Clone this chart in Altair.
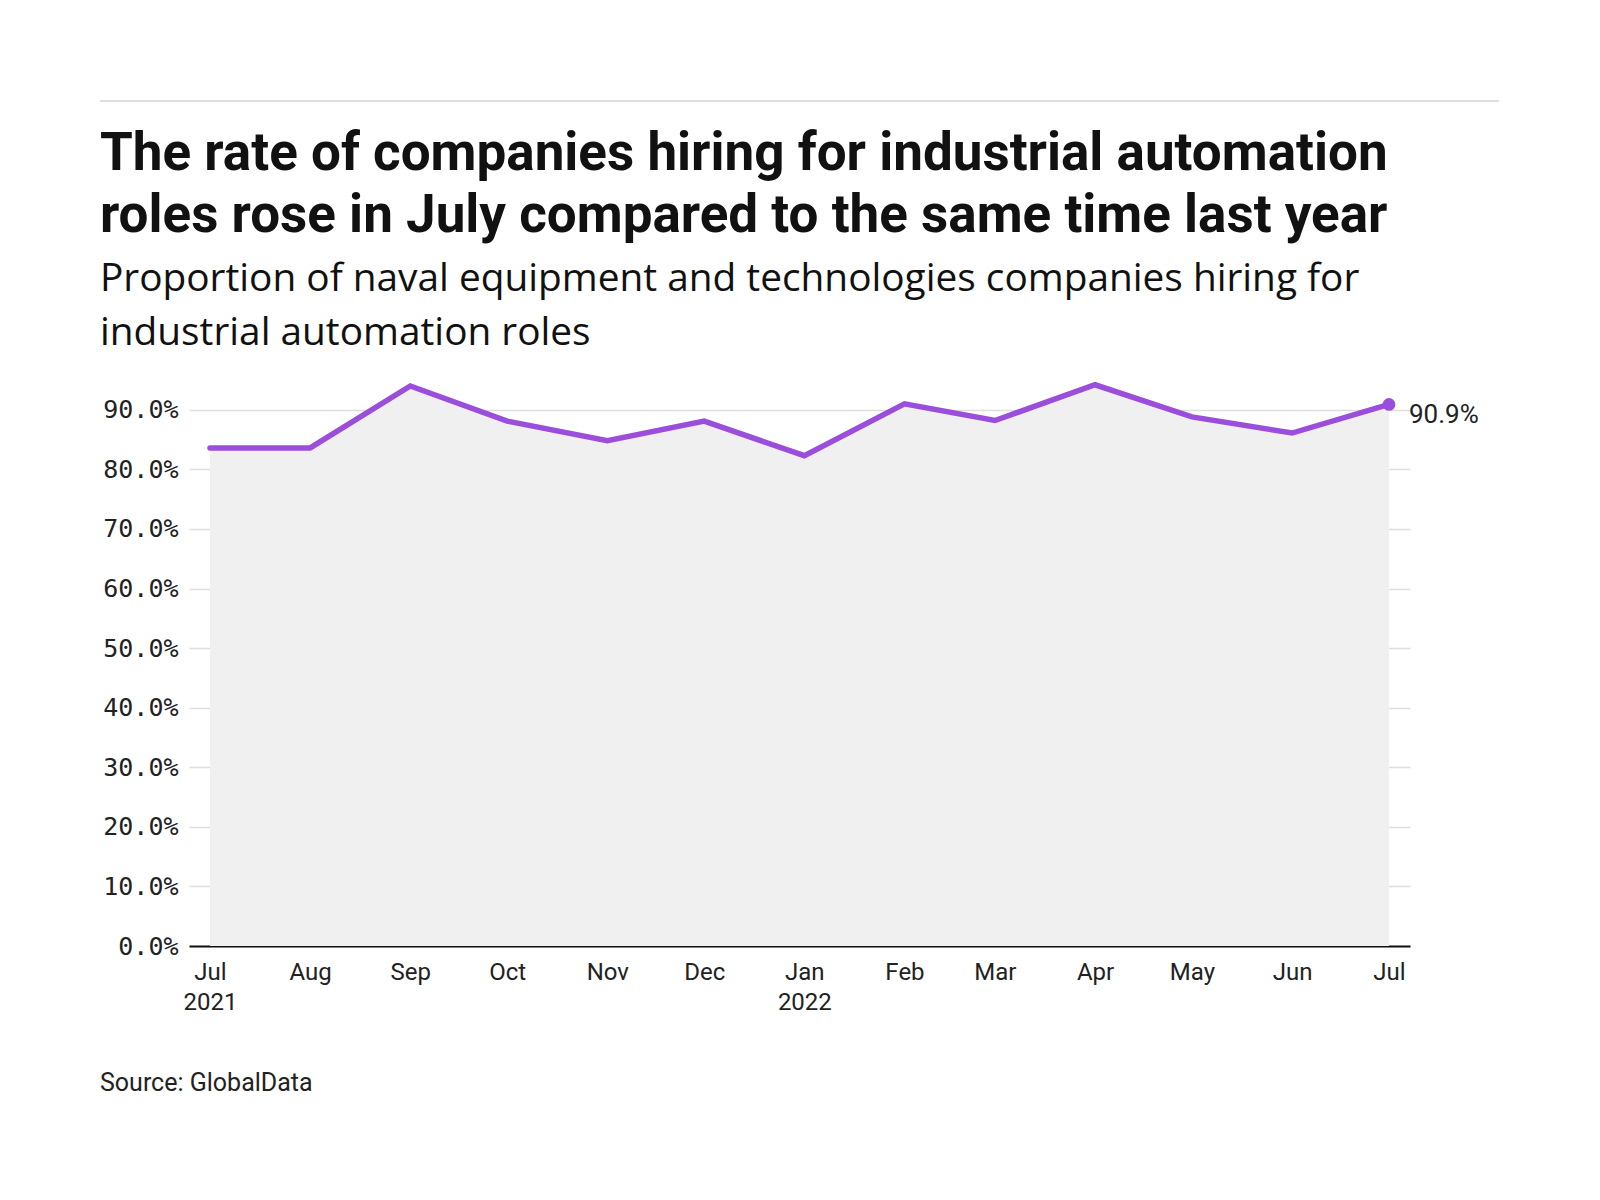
import altair as alt
import pandas as pd

months = ["2021-07-01", "2021-08-01", "2021-09-01", "2021-10-01", "2021-11-01",
          "2021-12-01", "2022-01-01", "2022-02-01", "2022-03-01", "2022-04-01",
          "2022-05-01", "2022-06-01", "2022-07-01"]
values = [83.6, 83.6, 94.0, 88.1, 84.8, 88.1, 82.3, 91.0, 88.2, 94.2, 88.8, 86.1, 90.9]

title_lines = ["The rate of companies hiring for industrial automation",
               "roles rose in July compared to the same time last year"]
subtitle_lines = ["Proportion of naval equipment and technologies companies hiring for",
                  "industrial automation roles"]
source_text = "Source: GlobalData"

df = pd.DataFrame({"date": months, "value": [v / 100 for v in values]})
last = df.tail(1).copy()
last["label"] = [f"{values[-1]:.1f}%"]

W, H = 1221, 566
PURPLE = "#9b4ddb"
FONT = "Roboto"

xenc = alt.X("date:T", scale=alt.Scale(type="utc", padding=21, nice=False),
             axis=alt.Axis(title=None, grid=False, ticks=False, domain=True,
                           domainColor="#111111", domainWidth=2,
                           tickCount={"interval": "month", "step": 1},
                           labelExpr="(utcmonth(datum.value)==0 || (utcyear(datum.value)==2021 && utcmonth(datum.value)==6)) ? [utcFormat(datum.value,'%b'), utcFormat(datum.value,'%Y')] : utcFormat(datum.value,'%b')",
                           labelFont=FONT, labelFontSize=24, labelColor="#222222",
                           labelLineHeight=30, labelPadding=14, labelBaseline="top",
                           labelFlush=False, labelOverlap=False))
yenc = alt.Y("value:Q", scale=alt.Scale(domain=[0, 0.95], nice=False),
             axis=alt.Axis(title=None, values=[i / 10 for i in range(10)], format=".1%",
                           grid=True, gridColor="#dedede", gridWidth=1.5,
                           domain=False, ticks=False, labelPadding=11,
                           labelFont="DejaVu Sans Mono", labelFontSize=25,
                           labelColor="#222222"))

base = alt.Chart(df)
area = base.mark_area(color="#f0f0f0").encode(x=xenc, y=yenc)
line = base.mark_line(color=PURPLE, strokeWidth=5.5, strokeCap="round").encode(x="date:T", y="value:Q")
point = alt.Chart(last).mark_circle(color=PURPLE, size=160, opacity=1).encode(x="date:T", y="value:Q")
label = alt.Chart(last).mark_text(align="left", baseline="middle", dx=20, dy=11,
                                  font=FONT, fontSize=26, color="#222222").encode(
    x="date:T", y="value:Q", text="label:N")

top_rule = alt.Chart(df.head(1)).mark_rule(color="#dddddd", strokeWidth=2).encode(
    x=alt.value(-89), x2=alt.value(1310), y=alt.value(-279))
source = alt.Chart(df.head(1)).mark_text(align="left", baseline="alphabetic",
                                         font=FONT, fontSize=25, color="#222222").encode(
    x=alt.value(-89), y=alt.value(711), text=alt.value(source_text))

chart = alt.layer(area, line, point, label, top_rule, source).properties(
    width=W, height=H,
    autosize=alt.AutoSizeParams(type="none"),
    padding={"left": 181, "top": 372, "right": 180, "bottom": 260},
    title=alt.TitleParams(text=title_lines, subtitle=subtitle_lines,
                          anchor="start", frame="group", dx=-89, offset=-253,
                          font=FONT, fontSize=53, fontWeight="bold", lineHeight=62,
                          color="#111111",
                          subtitleFont="Open Sans", subtitleFontSize=38.8, subtitleLineHeight=54,
                          subtitleColor="#111111", subtitlePadding=17)
).configure_view(stroke=None)

chart.save("out.html", embed_options={"renderer": "svg", "actions": False})
